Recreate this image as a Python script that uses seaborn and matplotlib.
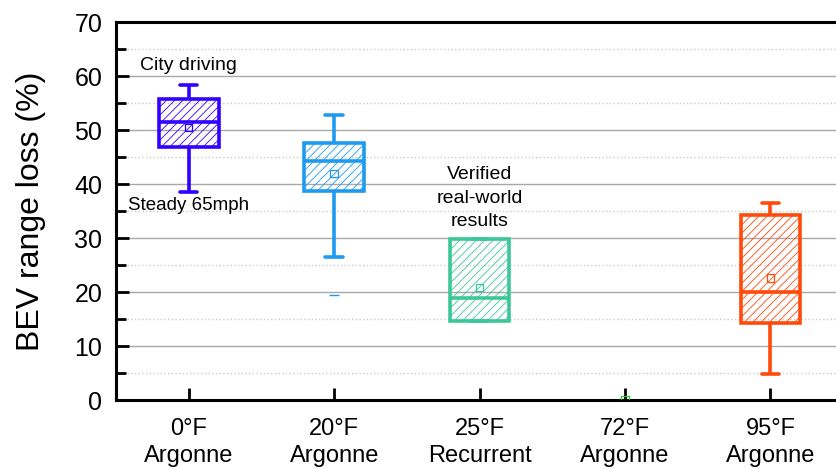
import pandas as pd
import seaborn as sns
import matplotlib.pyplot as plt
from matplotlib.ticker import MultipleLocator

# categories and colours
categories = ["0°F\nArgonne", "20°F\nArgonne", "25°F\nRecurrent", "72°F\nArgonne", "95°F\nArgonne"]
colors = ["#3300FF", "#1E9BF0", "#3CC896", "#22CC22", "#FF4A0A"]

# five-number summaries: low whisker, q1, median, q3, high whisker
box_0F = [38.6, 46.9, 51.4, 55.8, 58.3]
box_20F = [26.5, 38.7, 44.3, 47.6, 52.8]
box_25F = [14.7, 14.7, 18.9, 29.9, 29.9]
box_95F = [4.9, 14.2, 20.1, 34.3, 36.4]
means = [50.5, 41.9, 20.8, 0.0, 22.6]
min_20F = 19.4


def plot_range_loss():
    sns.set_style("white")
    plt.rcParams['font.family'] = ['Liberation Sans', 'DejaVu Sans']
    plt.rcParams['hatch.linewidth'] = 0.6
    for key in ['text.color', 'axes.labelcolor', 'xtick.color', 'ytick.color']:
        plt.rcParams[key] = 'black'

    rows = []
    for cat, vals in zip([categories[0], categories[1], categories[2], categories[4]],
                         [box_0F, box_20F, box_25F, box_95F]):
        for v in vals:
            rows.append({"case": cat, "loss": v})
    df = pd.DataFrame(rows)
    pal = dict(zip(categories, colors))

    fig = plt.figure(figsize=(8.36, 4.69), dpi=100)
    ax = fig.add_axes([0.1388, 0.147, 0.861, 0.806])

    sns.boxplot(data=df, x="case", y="loss", hue="case", order=categories,
                hue_order=categories, palette=pal, fill=True, width=0.41,
                linewidth=2.6, whis=(0, 100), showfliers=False, legend=False,
                capwidths=0.12, ax=ax)

    # hatched, unfilled boxes in the category colour
    for p in ax.patches:
        verts = p.get_path().vertices
        i = int(round(verts[:, 0].mean()))
        p.set_facecolor('none')
        p.set_edgecolor(colors[i])
        p.set_hatch('////')
    # whiskers, caps and medians in the same colour
    for ln in ax.lines:
        xs = ln.get_xdata()
        if len(xs) == 0:
            continue
        i = int(round(sum(xs) / len(xs)))
        ln.set_color(colors[i])
        ln.set_linewidth(2.6)

    # mean markers
    ax.scatter(range(len(categories)), means, marker='s', s=28,
               facecolors='none', edgecolors=colors, linewidths=0.9, zorder=5)
    # minimum marker for 20F
    ax.scatter([1], [min_20F], marker='_', s=60, color=colors[1], linewidths=1, zorder=5)

    ax.set_ylim(0, 70)
    ax.set_xlim(-0.5, 4.45)
    ax.yaxis.set_major_locator(MultipleLocator(10))
    ax.yaxis.set_minor_locator(MultipleLocator(5))
    ax.yaxis.grid(True, which='major', color='#a8a8a8', lw=1)
    ax.yaxis.grid(True, which='minor', color='#cccccc', lw=1, ls=':')
    ax.set_axisbelow(True)

    ax.tick_params(left=True, bottom=True)
    ax.tick_params(axis='y', which='major', direction='in', length=9, width=2,
                   labelsize=18, pad=10)
    ax.tick_params(axis='y', which='minor', left=True, direction='in', length=7, width=2)
    ax.tick_params(axis='x', which='major', direction='in', length=9, width=2,
                   labelsize=17, pad=13)
    for lab in ax.get_xticklabels():
        lab.set_linespacing(1.28)

    for side in ['left', 'bottom', 'top']:
        ax.spines[side].set_linewidth(2.2)
        ax.spines[side].set_color('black')
    ax.spines['right'].set_visible(False)

    ax.set_xlabel("")
    ax.set_ylabel("BEV range loss (%)", fontsize=23, labelpad=20)

    ax.text(0, 62, "City driving", ha='center', va='center', fontsize=14)
    ax.text(0, 36.1, "Steady 65mph", ha='center', va='center', fontsize=13.5)
    ax.text(2, 37.4, "Verified\nreal-world\nresults", ha='center', va='center',
            fontsize=14, linespacing=1.5)

    plt.savefig("out.png", dpi=100)
    plt.clf()


if __name__ == "__main__":
    plot_range_loss()
